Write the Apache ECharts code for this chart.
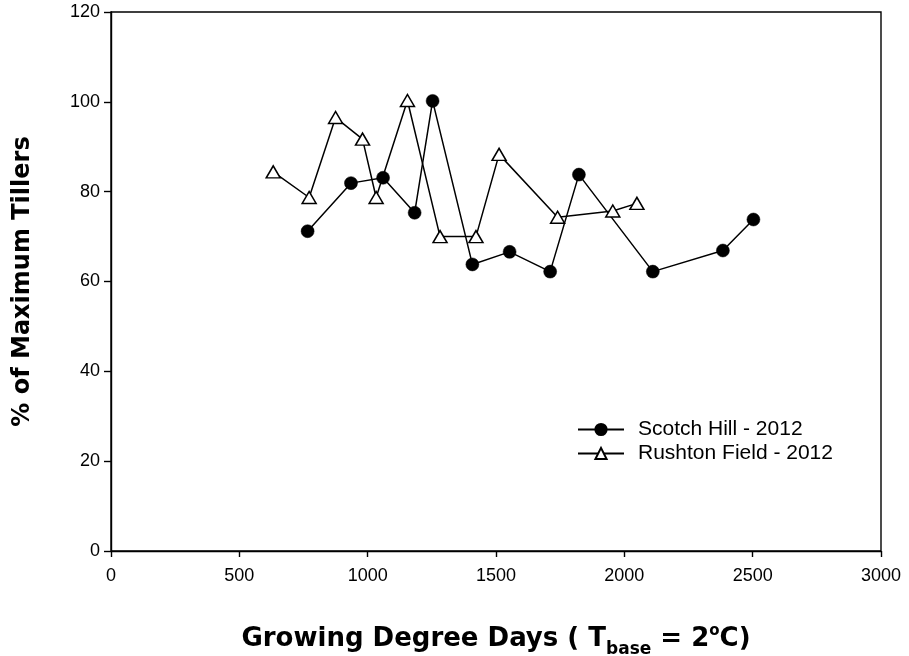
<!DOCTYPE html>
<html>
<head>
<meta charset="utf-8">
<script src="https://cdn.jsdelivr.net/npm/echarts@6/dist/echarts.min.js"></script>
<style>html,body{margin:0;padding:0;background:#fff}#c{width:909px;height:656px}</style>
</head>
<body>
<div id="c"></div>
<script>
const scotchGDD = [766, 935, 1060, 1183, 1253, 1408, 1553, 1711, 1823, 2111, 2384, 2503];
const scotchPct = [71.2, 81.9, 83.1, 75.3, 100.2, 63.8, 66.6, 62.2, 83.8, 62.2, 66.9, 73.8];
const rushtonGDD = [632, 772, 875, 980, 1033, 1155, 1282, 1422, 1512, 1740, 1955, 2049];
const rushtonPct = [84.4, 78.7, 96.5, 91.7, 78.7, 100.3, 70.0, 70.0, 88.3, 74.3, 75.7, 77.4];
const xTicks = [0, 500, 1000, 1500, 2000, 2500, 3000];
const yTicks = [0, 20, 40, 60, 80, 100, 120];

const pair = (xs, ys) => xs.map((x, i) => [x, ys[i]]);
const chart = echarts.init(document.getElementById('c'), null, {renderer: 'canvas'});
const labelFont = {color: '#000', fontFamily: 'Liberation Sans, Arial, sans-serif', fontSize: 18};
const titleFont = 'DejaVu Sans, sans-serif';
chart.setOption({
  animation: false,
  backgroundColor: '#fff',
  grid: {left: 111, right: 28, top: 12, bottom: 105, outerBoundsMode: 'none', containLabel: false,
         show: true, borderColor: '#000', borderWidth: 1.4, backgroundColor: 'transparent'},
  legend: {
    orient: 'vertical', left: 577, top: 419, padding: 0, itemWidth: 46, itemHeight: 14, itemGap: 3,
    textStyle: Object.assign({}, labelFont, {fontSize: 21, padding: [0, 0, 0, 9]}),
    data: ['Scotch Hill - 2012', 'Rushton Field - 2012']
  },
  xAxis: {
    type: 'value', min: xTicks[0], max: xTicks[xTicks.length - 1], interval: 500,
    axisLine: {show: true, lineStyle: {color: '#000', width: 1.4}},
    axisTick: {show: true, inside: false, length: 6, lineStyle: {color: '#000', width: 1.4}},
    axisLabel: Object.assign({margin: 16, formatter: v => String(v)}, labelFont),
    splitLine: {show: false},
    name: 'Growing Degree Days ( T{sub|base} = 2{sup|o}C)',
    nameLocation: 'middle', nameGap: 70,
    nameTextStyle: {
      color: '#000', fontFamily: titleFont, fontWeight: 'bold', fontSize: 26,
      rich: {
        sub: {fontFamily: titleFont, fontWeight: 'bold', fontSize: 17, color: '#000', padding: [20, 0, 0, 0]},
        sup: {fontFamily: titleFont, fontWeight: 'bold', fontSize: 15, color: '#000', padding: [0, 0, 16, 0]}
      }
    }
  },
  yAxis: {
    type: 'value', min: yTicks[0], max: yTicks[yTicks.length - 1], interval: 20,
    axisLine: {show: true, lineStyle: {color: '#000', width: 1.4}},
    axisTick: {show: true, inside: false, length: 7, lineStyle: {color: '#000', width: 1.4}},
    axisLabel: Object.assign({margin: 11}, labelFont),
    splitLine: {show: false},
    name: '% of Maximum Tillers', nameLocation: 'middle', nameGap: 76, nameRotate: 90,
    nameTextStyle: {color: '#000', fontFamily: titleFont, fontWeight: 'bold', fontSize: 24}
  },
  series: [
    {
      name: 'Scotch Hill - 2012', type: 'line', data: pair(scotchGDD, scotchPct),
      symbol: 'circle', symbolSize: 13,
      lineStyle: {color: '#000', width: 1.5},
      itemStyle: {color: '#000', borderColor: '#000', borderWidth: 0.5}
    },
    {
      name: 'Rushton Field - 2012', type: 'line', data: pair(rushtonGDD, rushtonPct),
      symbol: 'triangle', symbolSize: [14, 12],
      lineStyle: {color: '#000', width: 1.5},
      itemStyle: {color: '#fff', borderColor: '#000', borderWidth: 1.5}
    }
  ]
});
</script>
</body>
</html>
